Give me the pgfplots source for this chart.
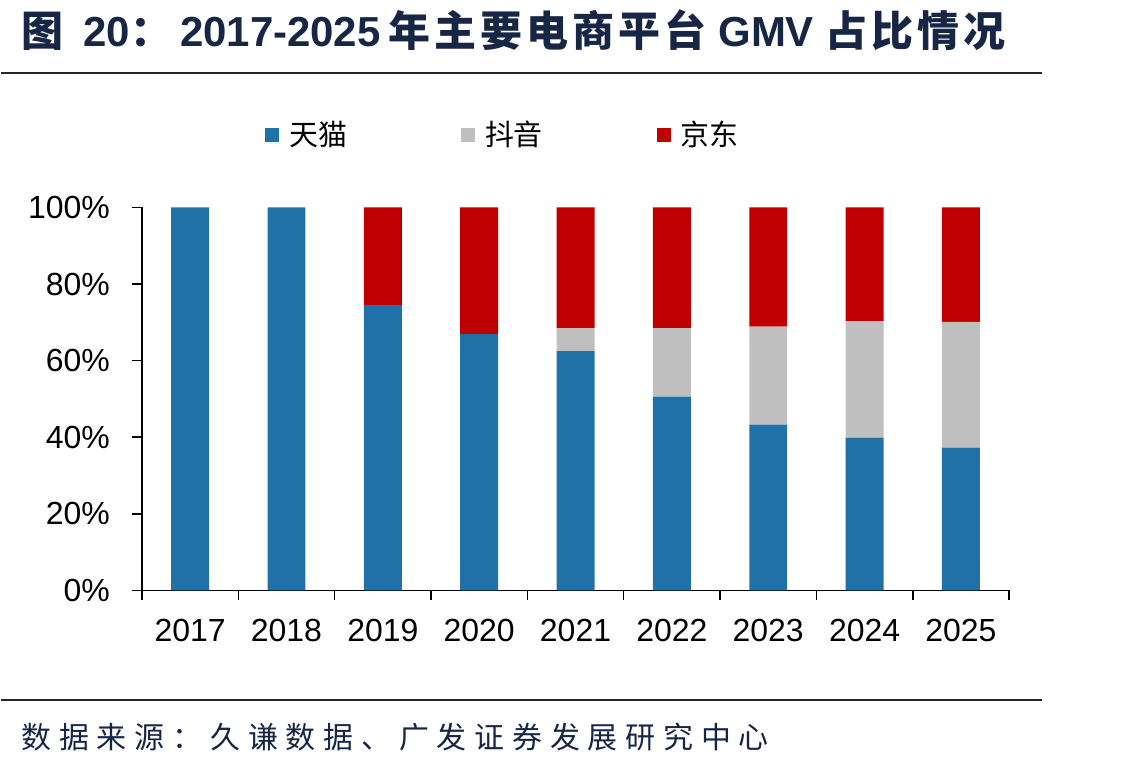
\documentclass[border=0pt]{standalone}
\usepackage{pgfplots}
\pgfplotsset{compat=1.18}
\usepackage{fontspec}
\setmainfont{Liberation Sans}
\newfontfamily\cjk{Noto Sans CJK SC}
\definecolor{tmall}{RGB}{33,113,169}
\definecolor{douyin}{RGB}{191,191,191}
\definecolor{jd}{RGB}{192,0,0}
\definecolor{navy}{RGB}{22,38,68}
\newcommand{\cs}[1]{{\cjk #1}}
\begin{document}
\begin{tikzpicture}
\begin{axis}[
  at={(0,0)}, anchor=south west,
  scale only axis, width=434pt, height=191.7pt,
  ybar stacked, bar width=19pt,
  xmin=-0.5, xmax=8.5, ymin=0, ymax=100,
  enlarge x limits=false, enlarge y limits=false,
  axis x line=bottom, axis y line=left,
  axis line style={-, line width=0.75pt, black},
  tick style={line width=0.75pt, black},
  tick align=outside,
  xtick={-0.5,0.5,...,8.5},
  x tick label as interval,
  xticklabels={2017,2018,2019,2020,2021,2022,2023,2024,2025},
  major tick length=5pt,
  ytick={0,20,40,60,80,100},
  yticklabels={0\%,20\%,40\%,60\%,80\%,100\%},
  ticklabel style={font=\fontsize{16}{18}\selectfont, black},
  xticklabel style={yshift=-6pt},
  yticklabel style={xshift=-7.5pt},
  legend columns=3,
  legend style={at={(0.1417,1.19)}, anchor=west, draw=none, fill=none, inner sep=0pt,
    font=\fontsize{14.5}{16}\selectfont,
    /tikz/every odd column/.append style={column sep=3pt},
    /tikz/every even column/.append style={column sep=55pt}},
  legend cell align=left,
  legend image code/.code={\path[#1, draw=none] (0pt,-3.5pt) rectangle (7pt,3.5pt);},
  clip=false,
]
\addplot[fill=tmall, draw=none] coordinates {(0,100) (1,100) (2,74.5) (3,66.9) (4,62.5) (5,50.6) (6,43.3) (7,39.9) (8,37.3)};
\addplot[fill=douyin, draw=none] coordinates {(0,0) (1,0) (2,0) (3,0) (4,5.9) (5,17.9) (6,25.6) (7,30.4) (8,32.8)};
\addplot[fill=jd, draw=none] coordinates {(0,0) (1,0) (2,25.5) (3,33.1) (4,31.6) (5,31.5) (6,31.1) (7,29.7) (8,29.9)};
\legend{\cs{天猫},\cs{抖音},\cs{京东}}
\end{axis}
\begin{scope}[x=0.5pt,y=-0.5pt,shift={(-70.5pt,295.5pt)}]
\path (0,0) rectangle (1140,770);
\draw[line width=1.1pt, black!85] (0,73) -- (1042,73);
\draw[line width=1.1pt, black!85] (0,701) -- (1042,701);
\node[anchor=west, inner sep=0pt, text=navy, font=\bfseries\fontsize{21}{24}\selectfont] at (20,30)
  {\cs{图}\hspace{10pt}20\cs{：}\hspace{4pt}2017-2025\hspace{4pt}\cs{年\hspace{2pt}主\hspace{2pt}要\hspace{2pt}电\hspace{2pt}商\hspace{2pt}平\hspace{2pt}台}\hspace{6pt}GMV\hspace{6pt}\cs{占\hspace{2pt}比\hspace{2pt}情\hspace{2pt}况}};
\node[anchor=west, inner sep=0pt, text=navy, font=\fontsize{15}{17}\selectfont] at (20,738)
  {\cs{数\hspace{3.9pt}据\hspace{3.9pt}来\hspace{3.9pt}源\hspace{3.9pt}：\hspace{3.9pt}久\hspace{3.9pt}谦\hspace{3.9pt}数\hspace{3.9pt}据\hspace{3.9pt}、\hspace{3.9pt}广\hspace{3.9pt}发\hspace{3.9pt}证\hspace{3.9pt}券\hspace{3.9pt}发\hspace{3.9pt}展\hspace{3.9pt}研\hspace{3.9pt}究\hspace{3.9pt}中\hspace{3.9pt}心}};
\end{scope}
\end{tikzpicture}
\end{document}
